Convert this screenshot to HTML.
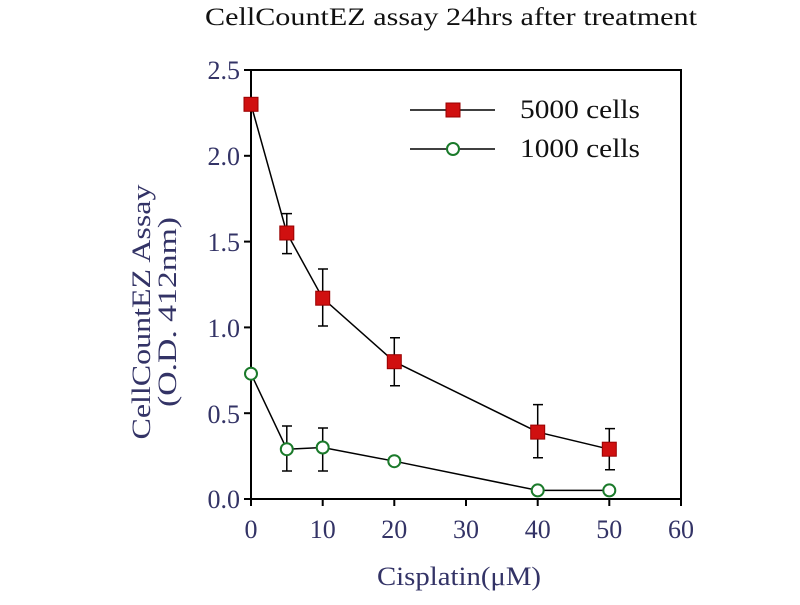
<!DOCTYPE html><html><head><style>body{margin:0;background:#fff}</style></head><body>
<svg width="800" height="600" xmlns="http://www.w3.org/2000/svg" font-family="Liberation Serif, serif">
<text x="205" y="25" font-size="25" textLength="492" lengthAdjust="spacingAndGlyphs" fill="#111">CellCountEZ assay 24hrs after treatment</text>
<rect x="251" y="70" width="430" height="429" fill="none" stroke="#000" stroke-width="2"/>
<g stroke="#000" stroke-width="2">
<line x1="244" y1="70" x2="251" y2="70"/><line x1="244" y1="155.8" x2="251" y2="155.8"/><line x1="244" y1="241.6" x2="251" y2="241.6"/><line x1="244" y1="327.4" x2="251" y2="327.4"/><line x1="244" y1="413.2" x2="251" y2="413.2"/><line x1="244" y1="499" x2="251" y2="499"/>
<line x1="251" y1="499" x2="251" y2="506"/><line x1="322.7" y1="499" x2="322.7" y2="506"/><line x1="394.3" y1="499" x2="394.3" y2="506"/><line x1="466" y1="499" x2="466" y2="506"/><line x1="537.7" y1="499" x2="537.7" y2="506"/><line x1="609.3" y1="499" x2="609.3" y2="506"/><line x1="681" y1="499" x2="681" y2="506"/>
</g>
<g font-size="26" fill="#333366" text-anchor="end">
<text x="240" y="79">2.5</text><text x="240" y="165">2.0</text><text x="240" y="251">1.5</text><text x="240" y="337">1.0</text><text x="240" y="423">0.5</text><text x="240" y="508">0.0</text></g>
<g font-size="26" fill="#333366" text-anchor="middle">
<text x="251" y="538">0</text><text x="322.7" y="538">10</text><text x="394.3" y="538">20</text><text x="466" y="538">30</text><text x="537.7" y="538">40</text><text x="609.3" y="538">50</text><text x="681" y="538">60</text>
<text x="459" y="585" textLength="164" lengthAdjust="spacingAndGlyphs">Cisplatin(μM)</text></g>
<g font-size="26" fill="#333366" text-anchor="middle" transform="translate(150,312) rotate(-90)">
<text x="0" y="0" textLength="255" lengthAdjust="spacingAndGlyphs">CellCountEZ Assay</text><text x="0" y="26" textLength="190" lengthAdjust="spacingAndGlyphs">(O.D. 412nm)</text></g>
<g stroke="#000" stroke-width="1.5" fill="none">
<polyline points="251,104.3 286.8,233 322.7,298.2 394.3,361.7 537.7,432.1 609.3,449.2"/>
<polyline points="251,373.7 286.8,449.2 322.7,447.5 394.3,461.2 537.7,490.4 609.3,490.4"/>
<path d="M286.8,213.6V253.6M282,213.6h10M282,253.6h10 M322.7,269V326M318,269h10M318,326h10 M394.3,337.7V385.7M390,337.7h10M390,385.7h10 M537.7,404.6V457.8M533,404.6h10M533,457.8h10 M609.3,428.6V469.8M605,428.6h10M605,469.8h10 M286.8,426V471M282,426h10M282,471h10 M322.7,428V471M318,428h10M318,471h10"/>
<line x1="410" y1="110" x2="495" y2="110"/><line x1="410" y1="149" x2="495" y2="149"/>
</g>
<g fill="#d01010" stroke="#900" stroke-width="1">
<rect x="244" y="97.3" width="14" height="14"/><rect x="279.8" y="226" width="14" height="14"/><rect x="315.7" y="291.2" width="14" height="14"/><rect x="387.3" y="354.7" width="14" height="14"/><rect x="530.7" y="425.1" width="14" height="14"/><rect x="602.3" y="442.2" width="14" height="14"/><rect x="446" y="103" width="14" height="14"/></g>
<g fill="#fff" stroke="#1a7a2a" stroke-width="2">
<circle cx="251" cy="373.7" r="6"/><circle cx="286.8" cy="449.2" r="6"/><circle cx="322.7" cy="447.5" r="6"/><circle cx="394.3" cy="461.2" r="6"/><circle cx="537.7" cy="490.4" r="6"/><circle cx="609.3" cy="490.4" r="6"/><circle cx="453" cy="149" r="6"/></g>
<g font-size="26" fill="#111"><text x="520" y="118" textLength="120" lengthAdjust="spacingAndGlyphs">5000 cells</text><text x="520" y="157" textLength="120" lengthAdjust="spacingAndGlyphs">1000 cells</text></g>
</svg></body></html>
